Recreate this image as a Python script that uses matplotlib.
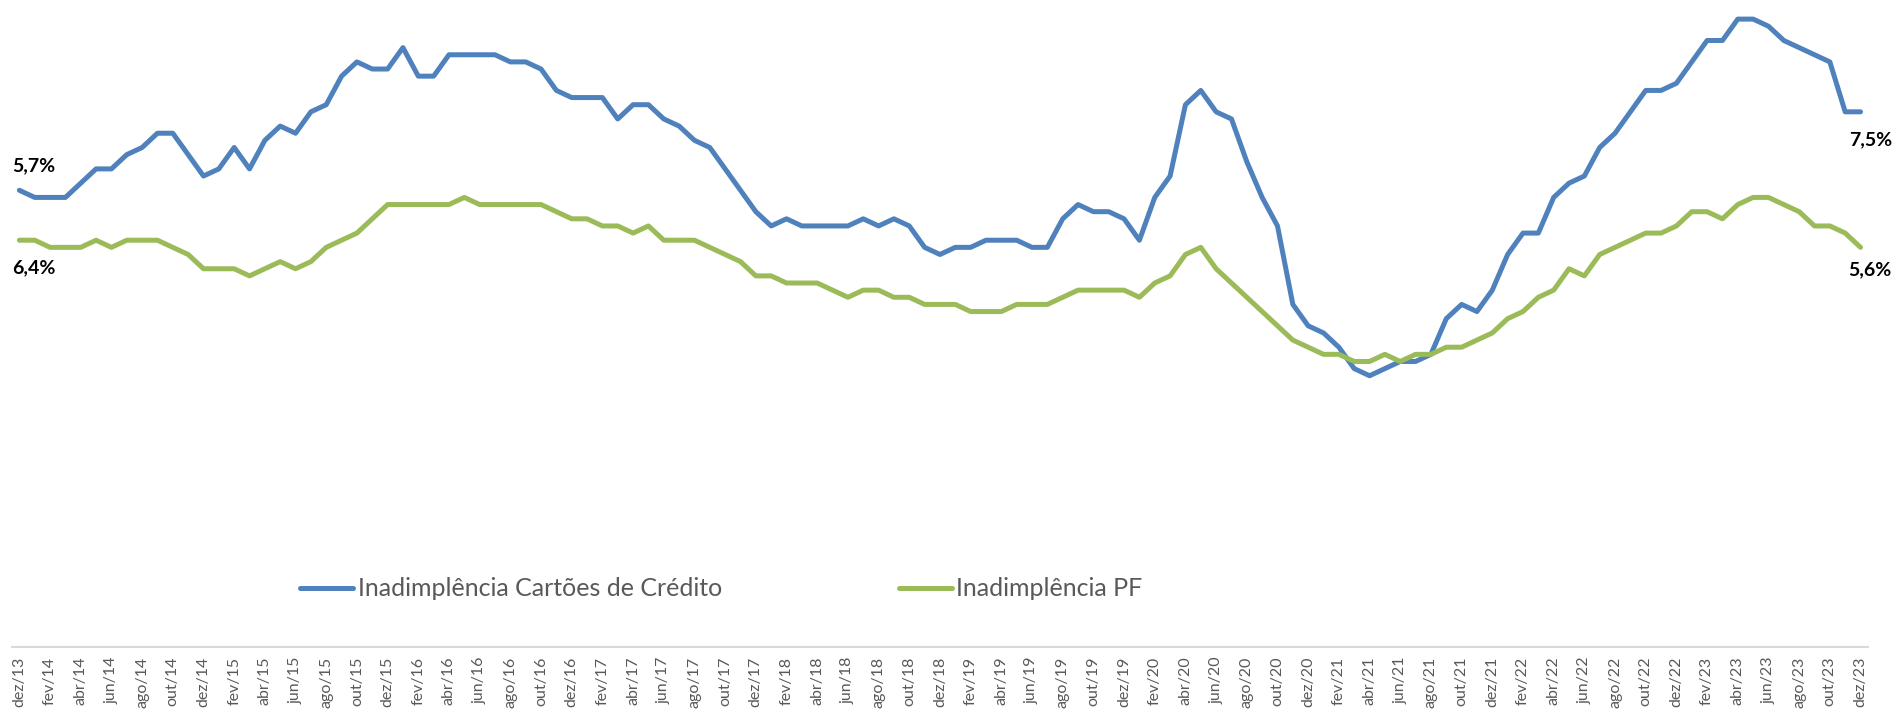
import matplotlib
matplotlib.use('Agg')
import matplotlib.pyplot as plt
from matplotlib.lines import Line2D

# meses: dez/13 ... dez/23
nomes = ['jan', 'fev', 'mar', 'abr', 'mai', 'jun', 'jul', 'ago', 'set', 'out', 'nov', 'dez']
meses = ['dez/13'] + [f'{m}/{a}' for a in range(14, 24) for m in nomes]

# Inadimplência Cartões de Crédito (%)
cartoes = [6.4, 6.3, 6.3, 6.3, 6.5, 6.7, 6.7, 6.9, 7.0, 7.2, 7.2, 6.9,
           6.6, 6.7, 7.0, 6.7, 7.1, 7.3, 7.2, 7.5, 7.6, 8.0, 8.2, 8.1,
           8.1, 8.4, 8.0, 8.0, 8.3, 8.3, 8.3, 8.3, 8.2, 8.2, 8.1, 7.8,
           7.7, 7.7, 7.7, 7.4, 7.6, 7.6, 7.4, 7.3, 7.1, 7.0, 6.7, 6.4,
           6.1, 5.9, 6.0, 5.9, 5.9, 5.9, 5.9, 6.0, 5.9, 6.0, 5.9, 5.6,
           5.5, 5.6, 5.6, 5.7, 5.7, 5.7, 5.6, 5.6, 6.0, 6.2, 6.1, 6.1,
           6.0, 5.7, 6.3, 6.6, 7.6, 7.8, 7.5, 7.4, 6.8, 6.3, 5.9, 4.8,
           4.5, 4.4, 4.2, 3.9, 3.8, 3.9, 4.0, 4.0, 4.1, 4.6, 4.8, 4.7,
           5.0, 5.5, 5.8, 5.8, 6.3, 6.5, 6.6, 7.0, 7.2, 7.5, 7.8, 7.8,
           7.9, 8.2, 8.5, 8.5, 8.8, 8.8, 8.7, 8.5, 8.4, 8.3, 8.2, 7.5,
           7.5]

# Inadimplência PF (%)
pf = [5.7, 5.7, 5.6, 5.6, 5.6, 5.7, 5.6, 5.7, 5.7, 5.7, 5.6, 5.5,
      5.3, 5.3, 5.3, 5.2, 5.3, 5.4, 5.3, 5.4, 5.6, 5.7, 5.8, 6.0,
      6.2, 6.2, 6.2, 6.2, 6.2, 6.3, 6.2, 6.2, 6.2, 6.2, 6.2, 6.1,
      6.0, 6.0, 5.9, 5.9, 5.8, 5.9, 5.7, 5.7, 5.7, 5.6, 5.5, 5.4,
      5.2, 5.2, 5.1, 5.1, 5.1, 5.0, 4.9, 5.0, 5.0, 4.9, 4.9, 4.8,
      4.8, 4.8, 4.7, 4.7, 4.7, 4.8, 4.8, 4.8, 4.9, 5.0, 5.0, 5.0,
      5.0, 4.9, 5.1, 5.2, 5.5, 5.6, 5.3, 5.1, 4.9, 4.7, 4.5, 4.3,
      4.2, 4.1, 4.1, 4.0, 4.0, 4.1, 4.0, 4.1, 4.1, 4.2, 4.2, 4.3,
      4.4, 4.6, 4.7, 4.9, 5.0, 5.3, 5.2, 5.5, 5.6, 5.7, 5.8, 5.8,
      5.9, 6.1, 6.1, 6.0, 6.2, 6.3, 6.3, 6.2, 6.1, 5.9, 5.9, 5.8,
      5.6]

# rótulos de dados como aparecem no gráfico
rotulos_inicio = ['5,7%', '6,4%']
rotulos_fim = ['7,5%', '5,6%']

azul = '#4F81BD'
verde = '#9BBB59'
cinza = '#595959'
fonte = ['Lato', 'DejaVu Sans']
plt.rcParams['font.family'] = fonte

W, H = 1898, 712
fig = plt.figure(figsize=(W / 100, H / 100), dpi=100)
# área do gráfico em pixels
x0, x1 = 11.7, 1868.2
y_zero, px_pp = 646.8, 71.33
ax = fig.add_axes([x0 / W, (H - y_zero) / H, (x1 - x0) / W, 9 * px_pp / H])

x = list(range(len(meses)))
l1, = ax.plot(x, cartoes, color=azul, lw=3.6, solid_joinstyle='round', solid_capstyle='round')
l2, = ax.plot(x, pf, color=verde, lw=3.6, solid_joinstyle='round', solid_capstyle='round')

ax.set_xlim(-0.5, len(meses) - 0.5)
ax.set_ylim(0, 9)

# eixos
for s in ['top', 'right', 'left']:
    ax.spines[s].set_visible(False)
ax.spines['bottom'].set_color('#D9D9D9')
ax.spines['bottom'].set_linewidth(1.5)
ax.set_yticks([])
ax.set_xticks(x[::2])
ax.set_xticklabels(meses[::2], rotation=90, fontsize=11.5, color=cinza)
ax.tick_params(axis='x', length=0, pad=7)

# rótulos do primeiro e último ponto
kw = dict(textcoords='offset points', fontsize=14, fontweight='bold', color='black',
          va='center', annotation_clip=False)
ax.annotate(rotulos_inicio[0], xy=(x[0], cartoes[0]), xytext=(-5, 18), ha='left', **kw)
ax.annotate(rotulos_inicio[1], xy=(x[0], pf[0]), xytext=(-5, -20), ha='left', **kw)
ax.annotate(rotulos_fim[0], xy=(x[-1], cartoes[-1]), xytext=(7, -20), ha='center', **kw)
ax.annotate(rotulos_fim[1], xy=(x[-1], pf[-1]), xytext=(7, -16), ha='center', **kw)

# legenda (duas entradas posicionadas separadamente)
leg_kw = dict(loc='center left', frameon=False, fontsize=18, handlelength=2.1,
              handletextpad=0.2, borderpad=0, borderaxespad=0, labelcolor=cinza)
fig.legend([Line2D([], [], color=azul, lw=3.6, solid_capstyle='round')],
           ['Inadimplência Cartões de Crédito'],
           bbox_to_anchor=(300 / W, 1 - 589 / H), **leg_kw)
fig.legend([Line2D([], [], color=verde, lw=3.6, solid_capstyle='round')],
           ['Inadimplência PF'],
           bbox_to_anchor=(899 / W, 1 - 589 / H), **leg_kw)

plt.savefig('out.png', dpi=100)
